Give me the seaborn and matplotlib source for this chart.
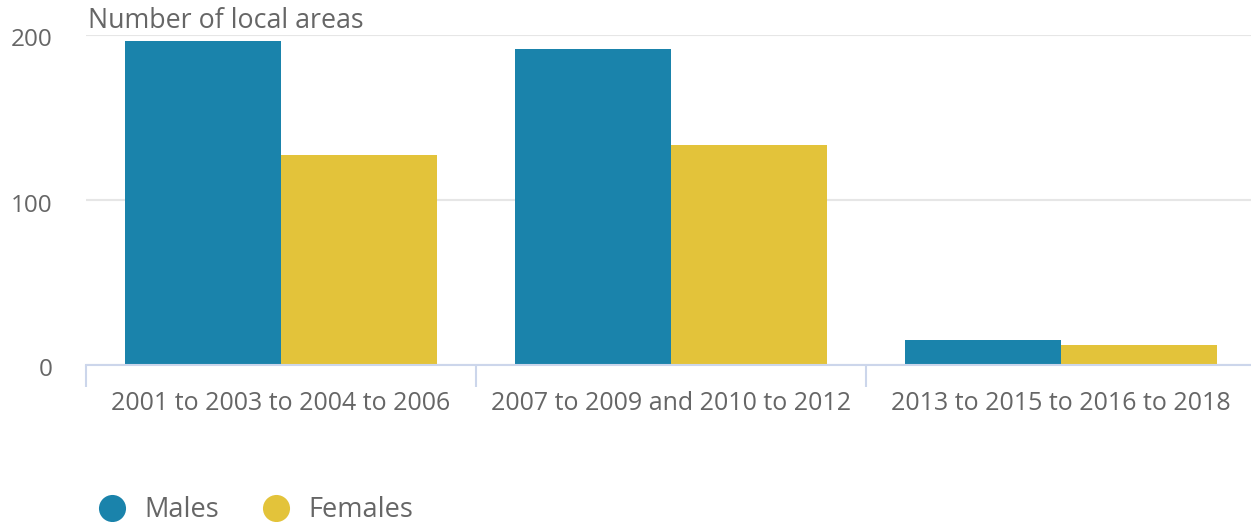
import matplotlib
matplotlib.use("Agg")
import matplotlib.pyplot as plt
import matplotlib.transforms as mtransforms
from matplotlib.lines import Line2D
import pandas as pd
import seaborn as sns

periodos = ["2001 to 2003 to 2004 to 2006",
            "2007 to 2009 and 2010 to 2012",
            "2013 to 2015 to 2016 to 2018"]
hombres = [196, 191, 15]
mujeres = [127, 133, 12]
series = ["Males", "Females"]
colores = {"Males": "#1a83ab", "Females": "#e3c33a"}

df = pd.DataFrame({
    "periodo": periodos * 2,
    "valor": hombres + mujeres,
    "sexo": [series[0]] * len(hombres) + [series[1]] * len(mujeres),
})

sns.set_style("white")
plt.rcParams['font.family'] = ['Open Sans', 'DejaVu Sans']
gris = "#666666"
eje = "#ccd6eb"

fig = plt.figure(figsize=(12.51, 5.22), dpi=100)
ax = fig.add_axes([86 / 1251, 1 - 364.5 / 522, 1170 / 1251, 330 / 522])

sns.barplot(data=df, x="periodo", y="valor", hue="sexo", palette=colores,
            width=0.8, linewidth=0, saturation=1, ax=ax, legend=False, zorder=3)

ax.set_xlim(-0.5, 2.5)
ax.set_ylim(0, 200)
ax.set_yticks([0, 100, 200])
ax.set_xlabel("")
ax.set_ylabel("")

# rejilla horizontal
ax.grid(axis="y", color="#e6e6e6", linewidth=1.5, zorder=0)
ax.set_axisbelow(True)

for lado in ["top", "right", "left"]:
    ax.spines[lado].set_visible(False)
ax.spines["bottom"].set_color(eje)
ax.spines["bottom"].set_linewidth(1.5)
ax.spines["bottom"].set_zorder(4)

ax.tick_params(axis="y", length=0, pad=24, labelsize=17.5, labelcolor=gris)
ax.tick_params(axis="x", which="major", length=0, pad=19, labelsize=18, labelcolor=gris)
ax.set_xticks([-0.5, 0.5, 1.5, 2.5], minor=True)
ax.tick_params(axis="x", which="minor", bottom=True, length=16, width=1.5,
               color=eje, direction="out")

# etiquetas del eje y un poco por debajo de la rejilla
desplazar = mtransforms.ScaledTranslation(0, -3 / 100, fig.dpi_scale_trans)
for etiqueta in ax.get_yticklabels():
    etiqueta.set_transform(etiqueta.get_transform() + desplazar)

fig.text(88 / 1251, 1 - 21 / 522, "Number of local areas", fontsize=19.3,
         color=gris, ha="left", va="center")

manijas = [Line2D([], [], marker="o", linestyle="", markersize=19.5,
                  markerfacecolor=colores[s], markeredgewidth=0) for s in series]
fig.legend(manijas, series, loc="center left", bbox_to_anchor=(98 / 1251, 1 - 510 / 522),
           ncol=2, frameon=False, fontsize=19.5, labelcolor=gris, borderpad=0,
           handlelength=1.0, handletextpad=0.7, columnspacing=1.62, borderaxespad=0)

plt.savefig("out.png", dpi=100)
